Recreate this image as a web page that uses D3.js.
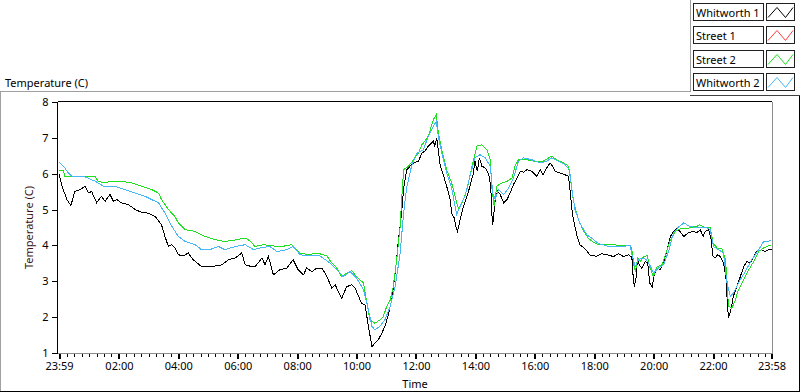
<!DOCTYPE html>
<html lang="en">
<head>
<meta charset="utf-8">
<script src="https://d3js.org/d3.v7.min.js"></script>
<style>
  body { margin: 0; background: #fff; }
  text { font-family: "Noto Sans", "Liberation Sans", sans-serif; font-size: 11px; fill: #000; }
</style>
</head>
<body>
<div id="graph"></div>
<script>
'use strict';

const seriesNames = ["Whitworth 1", "Street 1", "Street 2", "Whitworth 2"];
const seriesColors = ["#000000", "#ff3b3b", "#1ee01e", "#45b7f5"];

// time in minutes after midnight (23:59 of the day before = -1)
const w1Time = [-1, 5, 15, 23, 31, 41, 52, 58, 65, 75, 85, 92, 102, 109, 116, 126, 139, 153, 166, 179, 193, 206, 213, 220, 227, 233, 240, 250, 260, 270, 287, 307, 328, 341, 355, 368, 375, 388, 395, 409, 415, 422, 432, 445, 459, 472, 482, 493, 499, 510, 520, 530, 536, 543, 550, 557, 563, 570, 580, 590, 597, 604, 610, 617, 624, 631, 637, 644, 651, 658, 664, 671, 678, 684, 691, 695, 701, 708, 715, 725, 732, 738, 745, 752, 755, 758, 762, 765, 769, 775, 782, 789, 792, 797, 801, 804, 809, 816, 823, 829, 836, 839, 844, 848, 853, 860, 867, 871, 873, 875, 880, 885, 890, 897, 904, 910, 917, 924, 931, 937, 944, 954, 964, 971, 977, 984, 991, 996, 1001, 1011, 1021, 1028, 1031, 1035, 1038, 1045, 1051, 1062, 1072, 1085, 1095, 1105, 1119, 1129, 1139, 1149, 1156, 1158, 1161, 1165, 1167, 1171, 1176, 1183, 1188, 1192, 1197, 1201, 1207, 1213, 1220, 1227, 1234, 1240, 1247, 1253, 1261, 1270, 1280, 1287, 1294, 1300, 1304, 1311, 1316, 1320, 1324, 1329, 1335, 1341, 1346, 1348, 1351, 1356, 1361, 1368, 1375, 1382, 1388, 1395, 1402, 1408, 1418, 1425, 1432, 1438];
const w1Temp = [6.0, 5.65, 5.28, 5.11, 5.51, 5.55, 5.65, 5.47, 5.5, 5.19, 5.37, 5.23, 5.42, 5.23, 5.28, 5.18, 5.14, 5.0, 4.92, 4.9, 4.81, 4.58, 4.25, 3.97, 4.02, 3.93, 3.74, 3.71, 3.79, 3.6, 3.41, 3.41, 3.46, 3.6, 3.65, 3.79, 3.46, 3.41, 3.41, 3.65, 3.46, 3.69, 3.18, 3.32, 3.37, 3.6, 3.32, 3.18, 3.37, 3.27, 3.37, 3.37, 3.23, 3.04, 2.81, 2.9, 2.71, 2.53, 2.85, 2.9, 2.81, 2.58, 2.39, 2.34, 1.74, 1.18, 1.27, 1.37, 1.55, 1.78, 2.06, 2.48, 3.23, 4.07, 4.9, 5.6, 6.1, 6.21, 6.3, 6.35, 6.58, 6.63, 6.77, 6.86, 6.91, 6.77, 7.0, 6.67, 6.21, 5.97, 5.65, 5.28, 4.9, 4.77, 4.49, 4.39, 4.72, 5.09, 5.37, 5.65, 6.02, 6.35, 6.07, 6.44, 6.21, 6.16, 5.97, 5.65, 4.9, 4.58, 5.28, 5.51, 5.42, 5.19, 5.28, 5.46, 5.7, 5.88, 6.07, 6.04, 6.11, 6.07, 5.93, 6.11, 5.97, 6.16, 6.3, 6.21, 6.07, 6.02, 5.97, 5.93, 5.56, 5.0, 4.72, 4.28, 4.02, 3.9, 3.72, 3.7, 3.77, 3.74, 3.69, 3.77, 3.69, 3.74, 3.67, 3.23, 2.85, 3.13, 3.6, 3.46, 3.37, 3.55, 3.51, 2.95, 2.85, 3.18, 3.37, 3.32, 3.51, 3.88, 4.25, 4.39, 4.49, 4.39, 4.25, 4.35, 4.39, 4.35, 4.44, 4.25, 4.39, 4.44, 4.16, 3.69, 3.65, 3.74, 3.69, 3.51, 3.09, 2.58, 1.97, 2.2, 2.58, 2.85, 3.13, 3.41, 3.55, 3.51, 3.69, 3.83, 3.88, 3.83, 3.88, 3.88];

// Street 1 has no points on the graph
const s1Time = [];
const s1Temp = [];

const s2Time = [-1, 7, 11, 72, 78, 92, 102, 126, 146, 166, 186, 200, 206, 220, 233, 240, 254, 274, 294, 314, 334, 358, 375, 385, 395, 412, 425, 445, 469, 486, 503, 520, 540, 550, 560, 570, 580, 590, 600, 614, 621, 627, 637, 647, 654, 661, 668, 674, 681, 688, 691, 695, 705, 715, 725, 732, 738, 745, 752, 755, 761, 765, 772, 782, 792, 799, 806, 813, 823, 833, 843, 853, 863, 870, 873, 878, 883, 893, 904, 914, 920, 927, 944, 957, 977, 988, 994, 1004, 1018, 1028, 1033, 1038, 1048, 1058, 1068, 1079, 1089, 1113, 1153, 1156, 1160, 1163, 1168, 1173, 1180, 1187, 1192, 1199, 1207, 1217, 1224, 1234, 1244, 1254, 1267, 1277, 1287, 1293, 1301, 1314, 1320, 1328, 1338, 1345, 1348, 1351, 1358, 1365, 1371, 1382, 1392, 1402, 1412, 1422, 1432, 1438];
const s2Temp = [6.1, 6.1, 5.93, 5.93, 5.79, 5.74, 5.79, 5.79, 5.74, 5.65, 5.56, 5.46, 5.28, 5.0, 4.81, 4.63, 4.44, 4.39, 4.25, 4.16, 4.11, 4.16, 4.21, 4.12, 3.97, 4.02, 4.0, 3.96, 4.02, 3.79, 3.74, 3.79, 3.71, 3.51, 3.37, 3.13, 3.23, 3.3, 3.13, 2.95, 2.39, 1.92, 1.83, 1.92, 2.02, 2.3, 2.48, 2.85, 3.6, 4.53, 5.28, 6.11, 6.21, 6.39, 6.58, 6.81, 6.91, 7.05, 7.37, 7.51, 7.65, 7.14, 6.67, 6.11, 5.74, 5.37, 5.0, 5.18, 5.56, 6.21, 6.77, 6.81, 6.67, 6.39, 5.65, 5.09, 5.65, 5.74, 5.79, 5.88, 6.21, 6.39, 6.39, 6.35, 6.35, 6.44, 6.49, 6.39, 6.3, 6.21, 5.75, 5.23, 4.72, 4.42, 4.2, 4.08, 4.02, 4.02, 3.99, 3.88, 3.46, 3.27, 3.65, 3.55, 3.69, 3.71, 3.41, 3.13, 3.41, 3.46, 3.74, 4.16, 4.39, 4.46, 4.46, 4.51, 4.53, 4.58, 4.51, 4.49, 4.07, 3.93, 3.9, 3.6, 3.04, 2.3, 2.25, 2.48, 2.76, 3.04, 3.32, 3.55, 3.83, 3.93, 3.99, 4.02];

const w2Time = [-1, 1, 8, 18, 25, 52, 72, 92, 112, 132, 153, 173, 186, 200, 213, 227, 240, 254, 274, 287, 307, 321, 334, 355, 375, 392, 405, 425, 439, 459, 472, 486, 506, 526, 546, 560, 573, 587, 600, 614, 624, 631, 637, 647, 657, 668, 678, 688, 695, 701, 711, 722, 735, 745, 755, 761, 765, 772, 782, 792, 802, 809, 819, 829, 839, 849, 860, 870, 875, 880, 887, 897, 907, 917, 927, 937, 954, 971, 984, 994, 1008, 1021, 1030, 1035, 1041, 1051, 1065, 1075, 1089, 1113, 1153, 1156, 1163, 1169, 1178, 1185, 1192, 1200, 1210, 1220, 1230, 1240, 1250, 1261, 1270, 1280, 1294, 1307, 1314, 1321, 1331, 1341, 1348, 1355, 1361, 1371, 1385, 1398, 1412, 1422, 1438];
const w2Temp = [6.3, 6.3, 6.21, 6.02, 5.93, 5.91, 5.79, 5.63, 5.65, 5.56, 5.46, 5.37, 5.28, 5.19, 4.9, 4.53, 4.25, 4.11, 4.02, 3.88, 3.9, 3.97, 3.88, 3.97, 4.02, 3.88, 3.93, 3.97, 3.83, 3.88, 3.97, 3.74, 3.71, 3.71, 3.51, 3.32, 3.13, 3.27, 3.09, 2.76, 2.2, 1.74, 1.65, 1.74, 1.92, 2.3, 2.85, 3.79, 4.9, 5.6, 6.21, 6.58, 6.67, 7.05, 7.33, 7.46, 7.05, 6.58, 6.02, 5.6, 4.86, 5.09, 5.37, 5.93, 6.44, 6.53, 6.44, 6.21, 5.46, 5.28, 5.56, 5.42, 5.6, 5.88, 6.35, 6.44, 6.39, 6.3, 6.35, 6.44, 6.35, 6.25, 6.11, 5.56, 5.0, 4.62, 4.3, 4.2, 4.05, 3.96, 3.99, 3.74, 3.41, 3.6, 3.65, 3.6, 3.46, 3.23, 3.37, 3.46, 3.83, 4.35, 4.51, 4.63, 4.55, 4.51, 4.49, 4.49, 4.44, 3.97, 3.88, 3.79, 2.95, 2.58, 2.67, 2.95, 3.27, 3.6, 3.88, 4.11, 4.13];

const yTicks = [1, 2, 3, 4, 5, 6, 7, 8];
const xTickMinutes = [-1, 120, 240, 360, 480, 600, 720, 840, 960, 1080, 1200, 1320, 1438];
const xTickLabels = ["23:59", "02:00", "04:00", "06:00", "08:00", "10:00", "12:00", "14:00", "16:00", "18:00", "20:00", "22:00", "23:58"];

const svgWidth = 800;
const svgHeight = 392;
const plot = {left: 58, top: 102, right: 772, bottom: 353};

const svg = d3.select("#graph").append("svg")
  .attr("width", svgWidth).attr("height", svgHeight)
  .style("display", "block");

const hLine = (x1, x2, y, color) =>
  svg.append("line").attr("x1", x1).attr("x2", x2).attr("y1", y).attr("y2", y)
    .attr("stroke", color).attr("stroke-width", 1).attr("shape-rendering", "crispEdges");
const vLine = (x, y1, y2, color) =>
  svg.append("line").attr("x1", x).attr("x2", x).attr("y1", y1).attr("y2", y2)
    .attr("stroke", color).attr("stroke-width", 1).attr("shape-rendering", "crispEdges");

// panel frame
hLine(0, 690, 91.5, "#a0a0a0");
vLine(0.5, 91, 392, "#a0a0a0");
hLine(0, 800, 391.5, "#000");
vLine(799.5, 95, 392, "#000");
// legend frame
vLine(690.5, 0, 92, "#a0a0a0");
hLine(690, 800, 95.5, "#404040");

svg.append("text").attr("x", 5).attr("y", 87).text("Temperature (C)");

// scales
const x = d3.scaleLinear().domain([-1, 1438]).range([59, 771.5]);
const y = d3.scaleLinear().domain([1, 8]).range([plot.bottom, plot.top]);

// plot border: top and left dark, right and bottom grey
hLine(plot.left, plot.right, plot.top - 0.5, "#000");
vLine(plot.right + 0.5, plot.top, plot.bottom, "#8c8c8c");

// lines
const lineGen = d3.line().x(d => x(d[0])).y(d => y(d[1]));
const allTimes = [w1Time, s1Time, s2Time, w2Time];
const allTemps = [w1Temp, s1Temp, s2Temp, w2Temp];
const plotArea = svg.append("g");
allTimes.forEach((times, i) => {
  const pts = times.map((t, j) => [t, allTemps[i][j]]);
  if (pts.length === 0) return;
  plotArea.append("path")
    .attr("d", lineGen(pts))
    .attr("fill", "none")
    .attr("stroke", seriesColors[i])
    .attr("stroke-width", 1)
    .attr("shape-rendering", "crispEdges");
});

// y axis
const yAxis = svg.append("g").attr("transform", `translate(${plot.left - 0.5},0)`)
  .call(d3.axisLeft(y).tickValues(yTicks).tickSize(6).tickPadding(3).tickFormat(d3.format("d")));
yAxis.select(".domain").attr("stroke", "#000").attr("d", `M0,${plot.top}V${plot.bottom + 1}`);
yAxis.selectAll(".tick line").attr("stroke", "#000").attr("shape-rendering", "crispEdges");
yAxis.attr("font-family", null).attr("font-size", null);

// x axis: 15 minute minor ticks, 2 hour labelled ticks
const minorTicks = d3.range(15, 1438, 15);
const xMinor = svg.append("g").attr("transform", `translate(0,${plot.bottom + 0.5})`)
  .call(d3.axisBottom(x).tickValues(minorTicks).tickSize(3).tickFormat(""));
xMinor.select(".domain").remove();
xMinor.selectAll(".tick line").attr("stroke", "#000").attr("shape-rendering", "crispEdges");

const xAxis = svg.append("g").attr("transform", `translate(0,${plot.bottom + 0.5})`)
  .call(d3.axisBottom(x).tickValues(xTickMinutes).tickSize(5).tickPadding(4)
    .tickFormat((d, i) => xTickLabels[i]));
xAxis.select(".domain").attr("stroke", "#8c8c8c").attr("shape-rendering", "crispEdges")
  .attr("d", `M${plot.left},0H${plot.right + 1}`);
xAxis.selectAll(".tick line").attr("stroke", "#000").attr("stroke-width", 2).attr("shape-rendering", "crispEdges");
xAxis.attr("font-family", null).attr("font-size", null);

// axis titles
svg.append("text").attr("x", (plot.left + plot.right) / 2).attr("y", 388)
  .attr("text-anchor", "middle").text("Time");
svg.append("text")
  .attr("transform", `translate(33,${(plot.top + plot.bottom) / 2}) rotate(-90)`)
  .attr("text-anchor", "middle").style("fill", "#3a1410").text("Temperature (C)");

// legend
const legend = svg.append("g");
seriesNames.forEach((name, i) => {
  const top = 3.5 + Math.round(i * 23.3);
  legend.append("rect").attr("x", 693.5).attr("y", top).attr("width", 70).attr("height", 17)
    .attr("fill", "#fff").attr("stroke", "#202020").attr("shape-rendering", "crispEdges");
  legend.append("text").attr("x", 696).attr("y", top + 13).text(name);
  legend.append("rect").attr("x", 766.5).attr("y", top).attr("width", 28).attr("height", 17)
    .attr("fill", "#fff").attr("stroke", "#202020").attr("shape-rendering", "crispEdges");
  legend.append("path")
    .attr("d", `M768,${top + 14}L777,${top + 4}L785.5,${top + 14}L793,${top + 4}`)
    .attr("fill", "none").attr("stroke", seriesColors[i]).attr("stroke-width", 1);
});
</script>
</body>
</html>
